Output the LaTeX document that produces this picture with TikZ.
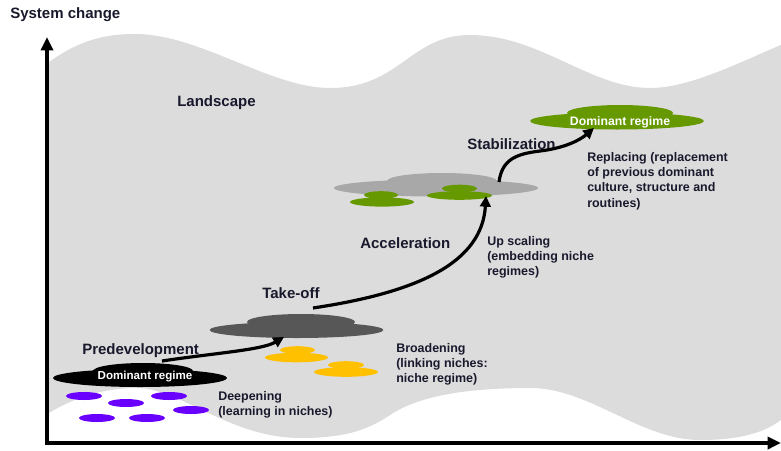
\documentclass[tikz,border=0pt]{standalone}
\usepackage{fontspec}
\setmainfont{Liberation Sans}
\usetikzlibrary{arrows.meta,shapes.geometric}
\definecolor{land}{RGB}{220,220,220}
\definecolor{txt}{RGB}{25,25,45}
\definecolor{niche}{RGB}{105,0,255}
\definecolor{yel}{RGB}{255,192,0}
\definecolor{grn}{RGB}{102,153,0}
\definecolor{dgray}{RGB}{87,87,87}
\definecolor{lgray}{RGB}{168,168,168}
\begin{document}
\begin{tikzpicture}[x=0.75pt,y=-0.75pt,
  stage/.style={font=\bfseries\fontsize{11.25}{13}\selectfont, text=txt, anchor=west, inner sep=0pt},
  desc/.style={font=\bfseries\fontsize{9.35}{11.4}\selectfont, text=txt, anchor=west, inner sep=0pt, align=left},
  regime/.style={font=\bfseries\fontsize{8.7}{10}\selectfont, text=white, inner sep=0pt},
  axisline/.style={line width=3pt, -{Triangle[length=10pt,width=9pt]}},
  flow/.style={line width=2.4pt, -{Triangle[length=8pt,width=8pt]}}]
\useasboundingbox (0,0) rectangle (781,450);
% landscape
\fill[land] (49,62) .. controls (80,40) and (105,34) .. (135,34)
  .. controls (200,34) and (270,88) .. (330,88)
  .. controls (400,88) and (410,35) .. (470,35)
  .. controls (540,35) and (590,88) .. (650,88)
  .. controls (690,88) and (740,62) .. (781,45)
  -- (781,420)
  .. controls (760,436) and (730,440) .. (700,440)
  .. controls (640,440) and (590,388) .. (530,388)
  .. controls (470,388) and (420,395) .. (390,415)
  .. controls (365,432) and (340,438) .. (300,438)
  .. controls (230,438) and (180,388) .. (137,388)
  .. controls (100,388) and (70,400) .. (49,413) -- cycle;
% axes
\coordinate (origin) at (47,443);
\coordinate (ytip) at (47,37);
\coordinate (xtip) at (781,443);
\draw[axisline] ([yshift=-1.5pt]origin) -- (ytip);
\draw[axisline] ([xshift=-1.5pt]origin) -- (xtip);
\node[stage, anchor=west] (syschange) at (10,15) {System change};
% niches (purple)
\foreach \p in {(84,396),(126,403),(169,396),(191,410),(97,418),(147,418)}
  \fill[niche] \p ellipse [x radius=18, y radius=4];
% black dominant regime
\fill[black] (140,378) ellipse [x radius=87, y radius=9];
\fill[black] (143,371) ellipse [x radius=50, y radius=8];
\node[regime] (dom1) at (145,377) {Dominant regime};
% yellow niches
\fill[yel] (297.5,350) ellipse [x radius=17.5, y radius=3.8];
\fill[yel] (296.5,357.5) ellipse [x radius=31.5, y radius=4.8];
\fill[yel] (346,365) ellipse [x radius=18, y radius=3.8];
\fill[yel] (346,372) ellipse [x radius=32, y radius=4.8];
% dark gray cloud
\fill[dgray] (296.5,330) ellipse [x radius=87, y radius=8];
\fill[dgray] (301,322) ellipse [x radius=54, y radius=8];
% light gray cloud
\fill[lgray] (436,188) ellipse [x radius=102, y radius=8.5];
\fill[lgray] (442,181) ellipse [x radius=55, y radius=8];
% green niches
\fill[grn] (381,195) ellipse [x radius=17, y radius=3.8];
\fill[grn] (382,202) ellipse [x radius=32, y radius=4.6];
\fill[grn] (459.5,188.5) ellipse [x radius=17.5, y radius=3.8];
\fill[grn] (459.5,195.5) ellipse [x radius=32.5, y radius=4.3];
% green dominant regime
\fill[grn] (617,121) ellipse [x radius=87, y radius=8.5];
\fill[grn] (620,113) ellipse [x radius=53, y radius=8];
\node[regime, font=\bfseries\fontsize{9.2}{10}\selectfont] (dom2) at (620,122) {Dominant regime};
% labels
\node[stage] (landscape) at (177,103) {Landscape};
\node[stage] (predev) at (82,351) {Predevelopment};
\node[stage] (takeoff) at (262,293) {Take-off};
\node[stage] (accel) at (360,243) {Acceleration};
\node[stage] (stab) at (467,144) {Stabilization};
\node[desc] (deep) at (218,405) {Deepening\\(learning in niches)};
\node[desc] (broad) at (396,364) {Broadening\\(linking niches:\\niche regime)};
\node[desc] (upsc) at (487,257) {Up scaling\\(embedding niche\\regimes)};
\node[desc] (repl) at (587,181) {Replacing (replacement\\of previous dominant\\culture, structure and\\routines)};
% flow arrows
\coordinate (a1s) at (162,361);
\coordinate (a1e) at (284,337);
\coordinate (a2s) at (313,308);
\coordinate (a2e) at (486,196);
\coordinate (a3s) at (499,182);
\coordinate (a3m) at (540,151);
\coordinate (a3e) at (594,128);
\draw[flow] (a1s) .. controls (215,353) and (262,350) .. (a1e);
\draw[flow] (a2s) .. controls (420,292) and (482,262) .. (a2e);
\draw[flow] (a3s) .. controls (502,160) and (515,154) .. (a3m)
  .. controls (565,148) and (580,140) .. (a3e);
\end{tikzpicture}
\end{document}
